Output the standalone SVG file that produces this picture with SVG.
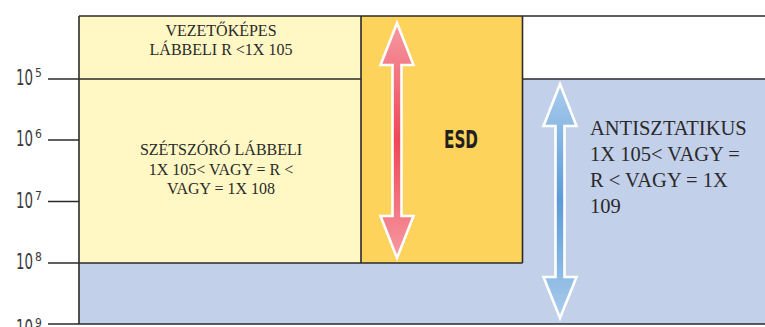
<svg xmlns="http://www.w3.org/2000/svg" width="765" height="327" viewBox="0 0 765 327">
<defs>
<linearGradient id="gRed" x1="0" y1="0" x2="0" y2="1">
<stop offset="0" stop-color="#F69AA2"/>
<stop offset="0.5" stop-color="#EE4657"/>
<stop offset="1" stop-color="#F69AA2"/>
</linearGradient>
<linearGradient id="gBlue" x1="0" y1="0" x2="0" y2="1">
<stop offset="0" stop-color="#AACCEC"/>
<stop offset="0.5" stop-color="#5C9BD6"/>
<stop offset="1" stop-color="#AACCEC"/>
</linearGradient>
<style>
.ln{stroke:#2b2b2b;stroke-width:1.6;fill:none}
.tick{font-family:"Liberation Sans Narrow","DejaVu Sans Condensed","Liberation Sans",sans-serif;fill:#3a3a3a}
.ser{font-family:"Liberation Serif","Times New Roman",serif;fill:#2a2a2a}
.arr{stroke:#fff;stroke-width:2.6;stroke-linejoin:miter}
</style>
</defs>
<rect x="0" y="0" width="765" height="327" fill="#fff"/>
<g id="region-conductive">
<rect x="79" y="16" width="282" height="63" fill="#FFF8C4"/>
<text class="ser" x="221" y="36" font-size="16" text-anchor="middle">VEZETŐKÉPES</text>
<text class="ser" x="221" y="55" font-size="16" text-anchor="middle">LÁBBELI R &lt;1X 105</text>
</g>
<g id="region-dissipative">
<rect x="79" y="79" width="282" height="184" fill="#FFF8C4"/>
<text class="ser" x="221" y="155" font-size="16" text-anchor="middle">SZÉTSZÓRÓ LÁBBELI</text>
<text class="ser" x="221" y="175" font-size="16" text-anchor="middle">1X 105&lt; VAGY = R &lt;</text>
<text class="ser" x="221" y="194" font-size="16" text-anchor="middle">VAGY = 1X 108</text>
</g>
<g id="region-antistatic">
<path d="M522,79 H765 V324 H79 V263 H522 Z" fill="#C3D0EA"/>
<text class="ser" x="590" y="135" font-size="20.5">ANTISZTATIKUS</text>
<text class="ser" x="590" y="161" font-size="20.5">1X 105&lt; VAGY =</text>
<text class="ser" x="590" y="187" font-size="20.5">R &lt; VAGY = 1X</text>
<text class="ser" x="590" y="213" font-size="20.5">109</text>
</g>
<g id="region-esd">
<rect x="361" y="16" width="161.5" height="247" fill="#FED35B"/>
<text x="461" y="148" font-size="24" font-weight="bold" text-anchor="middle" textLength="34" lengthAdjust="spacingAndGlyphs" font-family="Liberation Sans Narrow, DejaVu Sans Condensed, Liberation Sans, sans-serif" fill="#231F20">ESD</text>
</g>
<g id="connectors">
<path class="ln" d="M79,16 H765 M79,16 V324 M361,16 V263 M522.5,16 V263 M48,79 H361 M522.5,79 H765 M48,140 H79 M48,201.5 H79 M48,263 H522.5 M48,324 H765"/>
<path class="arr" fill="url(#gRed)" d="M397,23 L413.5,65 L401.5,65 L401.5,216 L413.5,216 L397,258 L380.5,216 L392.5,216 L392.5,65 L380.5,65 Z"/>
<path class="arr" fill="url(#gBlue)" d="M560,84 L576.5,126 L564.5,126 L564.5,277 L576.5,277 L560,318 L543.5,277 L555.5,277 L555.5,126 L543.5,126 Z"/>
</g>
<g id="scale">
<text class="tick" x="16" y="85"><tspan font-size="22" textLength="17" lengthAdjust="spacingAndGlyphs">10</tspan><tspan x="35" y="77" font-size="12">5</tspan></text>
<text class="tick" x="16" y="146"><tspan font-size="22" textLength="17" lengthAdjust="spacingAndGlyphs">10</tspan><tspan x="35" y="138" font-size="12">6</tspan></text>
<text class="tick" x="16" y="207.5"><tspan font-size="22" textLength="17" lengthAdjust="spacingAndGlyphs">10</tspan><tspan x="35" y="199.5" font-size="12">7</tspan></text>
<text class="tick" x="16" y="269"><tspan font-size="22" textLength="17" lengthAdjust="spacingAndGlyphs">10</tspan><tspan x="35" y="261" font-size="12">8</tspan></text>
<text class="tick" x="16" y="335"><tspan font-size="22" textLength="17" lengthAdjust="spacingAndGlyphs">10</tspan><tspan x="35" y="327" font-size="12">9</tspan></text>
</g>
</svg>
